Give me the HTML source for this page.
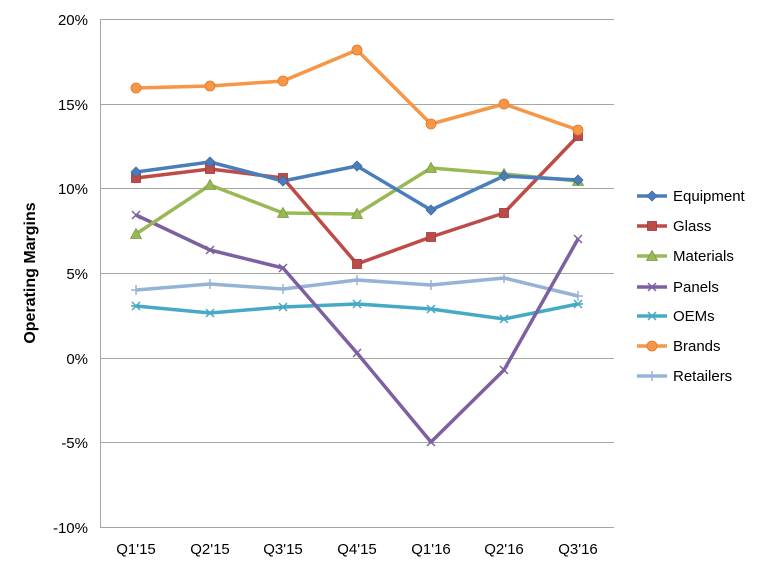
<!DOCTYPE html>
<html><head><meta charset="utf-8"><style>
body{margin:0;background:#fff;}
svg{display:block;font-family:"Liberation Sans",sans-serif;}
</style></head><body>
<svg width="768" height="569" viewBox="0 0 768 569">
<g stroke="#a6a6a6" stroke-width="1">
<line x1="100" y1="19.5" x2="614" y2="19.5"/>
<line x1="100" y1="104.5" x2="614" y2="104.5"/>
<line x1="100" y1="188.5" x2="614" y2="188.5"/>
<line x1="100" y1="273.5" x2="614" y2="273.5"/>
<line x1="100" y1="358.5" x2="614" y2="358.5"/>
<line x1="100" y1="442.5" x2="614" y2="442.5"/>
<line x1="100" y1="527.5" x2="614" y2="527.5"/>
<line x1="100.5" y1="19" x2="100.5" y2="527"/>
</g>
<g font-size="15" fill="#000" text-anchor="end">
<text x="88" y="25">20%</text><text x="88" y="110">15%</text><text x="88" y="194">10%</text>
<text x="88" y="279">5%</text><text x="88" y="364">0%</text><text x="88" y="448">-5%</text><text x="88" y="533">-10%</text>
</g>
<g font-size="15" fill="#000" text-anchor="middle">
<text x="136" y="554">Q1'15</text><text x="210" y="554">Q2'15</text><text x="283" y="554">Q3'15</text>
<text x="357" y="554">Q4'15</text><text x="431" y="554">Q1'16</text><text x="504" y="554">Q2'16</text><text x="578" y="554">Q3'16</text>
</g>
<text transform="translate(35,273) rotate(-90)" font-size="16" font-weight="bold" text-anchor="middle">Operating Margins</text>
<g fill="none" stroke-width="3.5" stroke-linejoin="round">
<polyline stroke="#95b3d7" points="136,290 210,284 283,289 357,280 431,285 504,278 578,296"/>
<polyline stroke="#46aac5" points="136,306 210,313 283,307 357,304 431,309 504,319 578,304"/>
<polyline stroke="#7d60a0" points="136,215 210,250 283,268 357,353 431,442 504,370 578,239"/>
<polyline stroke="#98b954" points="136,234 210,185 283,213 357,214 431,168 504,174 578,181"/>
<polyline stroke="#be4b48" points="136,178 210,169 283,178 357,264 431,237 504,213 578,136"/>
<polyline stroke="#4a7ebb" points="136,172 210,162 283,181 357,166 431,210 504,176 578,180"/>
<polyline stroke="#f79646" points="136,88 210,86 283,81 357,50 431,124 504,104 578,130"/>
</g>
<defs>
<g id="dia"><path d="M0,-5 L5,0 L0,5 L-5,0Z" fill="#4a7ebb" stroke="#3a6aa0" stroke-width="0.8"/></g>
<g id="sq"><rect x="-4.5" y="-4.5" width="9" height="9" fill="#be4b48" stroke="#9c3a38" stroke-width="0.8"/></g>
<g id="tri"><path d="M0,-5.5 L5.5,4.5 L-5.5,4.5Z" fill="#98b954" stroke="#7a9a40" stroke-width="0.8"/></g>
<g id="x"><path d="M-4,-4 L4,4 M-4,4 L4,-4" stroke="#7d60a0" stroke-width="1.5"/></g>
<g id="ast"><path d="M-4,-4 L4,4 M-4,4 L4,-4 M-5,0 L5,0" stroke="#46aac5" stroke-width="1.5"/></g>
<g id="cir"><circle r="5" fill="#f79646" stroke="#e07a2a" stroke-width="0.8"/></g>
<g id="plus"><path d="M-5,0 L5,0 M0,-5 L0,5" stroke="#95b3d7" stroke-width="1.5"/></g>
</defs>
<g>
<use href="#plus" x="136" y="290"/><use href="#plus" x="210" y="284"/><use href="#plus" x="283" y="289"/><use href="#plus" x="357" y="280"/><use href="#plus" x="431" y="285"/><use href="#plus" x="504" y="278"/><use href="#plus" x="578" y="296"/>
<use href="#ast" x="136" y="306"/><use href="#ast" x="210" y="313"/><use href="#ast" x="283" y="307"/><use href="#ast" x="357" y="304"/><use href="#ast" x="431" y="309"/><use href="#ast" x="504" y="319"/><use href="#ast" x="578" y="304"/>
<use href="#x" x="136" y="215"/><use href="#x" x="210" y="250"/><use href="#x" x="283" y="268"/><use href="#x" x="357" y="353"/><use href="#x" x="431" y="442"/><use href="#x" x="504" y="370"/><use href="#x" x="578" y="239"/>
<use href="#tri" x="136" y="234"/><use href="#tri" x="210" y="185"/><use href="#tri" x="283" y="213"/><use href="#tri" x="357" y="214"/><use href="#tri" x="431" y="168"/><use href="#tri" x="504" y="174"/><use href="#tri" x="578" y="181"/>
<use href="#sq" x="136" y="178"/><use href="#sq" x="210" y="169"/><use href="#sq" x="283" y="178"/><use href="#sq" x="357" y="264"/><use href="#sq" x="431" y="237"/><use href="#sq" x="504" y="213"/><use href="#sq" x="578" y="136"/>
<use href="#dia" x="136" y="172"/><use href="#dia" x="210" y="162"/><use href="#dia" x="283" y="181"/><use href="#dia" x="357" y="166"/><use href="#dia" x="431" y="210"/><use href="#dia" x="504" y="176"/><use href="#dia" x="578" y="180"/>
<use href="#cir" x="136" y="88"/><use href="#cir" x="210" y="86"/><use href="#cir" x="283" y="81"/><use href="#cir" x="357" y="50"/><use href="#cir" x="431" y="124"/><use href="#cir" x="504" y="104"/><use href="#cir" x="578" y="130"/>
</g>
<g stroke-width="3.5">
<line x1="637" y1="196" x2="667" y2="196" stroke="#4a7ebb"/><use href="#dia" x="652" y="196"/>
<line x1="637" y1="226" x2="667" y2="226" stroke="#be4b48"/><use href="#sq" x="652" y="226"/>
<line x1="637" y1="256" x2="667" y2="256" stroke="#98b954"/><use href="#tri" x="652" y="256"/>
<line x1="637" y1="287" x2="667" y2="287" stroke="#7d60a0"/><use href="#x" x="652" y="287"/>
<line x1="637" y1="316" x2="667" y2="316" stroke="#46aac5"/><use href="#ast" x="652" y="316"/>
<line x1="637" y1="346" x2="667" y2="346" stroke="#f79646"/><use href="#cir" x="652" y="346"/>
<line x1="637" y1="376" x2="667" y2="376" stroke="#95b3d7"/><use href="#plus" x="652" y="376"/>
</g>
<g font-size="15" fill="#000">
<text x="673" y="201">Equipment</text><text x="673" y="231">Glass</text><text x="673" y="261">Materials</text>
<text x="673" y="292">Panels</text><text x="673" y="321">OEMs</text><text x="673" y="351">Brands</text><text x="673" y="381">Retailers</text>
</g>
</svg>
</body></html>
